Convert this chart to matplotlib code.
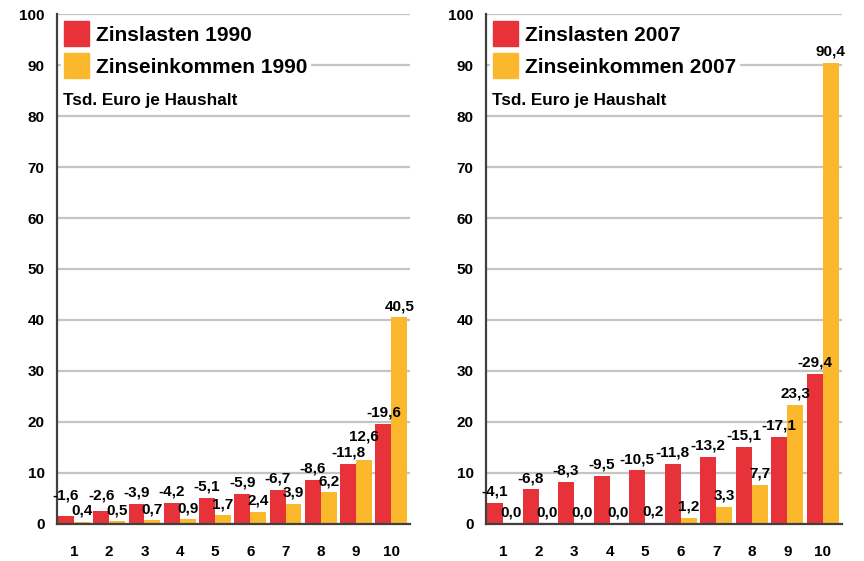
import matplotlib
matplotlib.use("Agg")
import matplotlib.pyplot as plt
from matplotlib.patches import Patch
import numpy as np

plt.rcParams["font.family"] = "Liberation Sans"
plt.rcParams["font.weight"] = "bold"

deciles = [1, 2, 3, 4, 5, 6, 7, 8, 9, 10]

# Zinslasten (als negative Werte beschriftet) und Zinseinkommen, Tsd. Euro je Haushalt
lasten_1990 = [-1.6, -2.6, -3.9, -4.2, -5.1, -5.9, -6.7, -8.6, -11.8, -19.6]
einkommen_1990 = [0.4, 0.5, 0.7, 0.9, 1.7, 2.4, 3.9, 6.2, 12.6, 40.5]
lasten_2007 = [-4.1, -6.8, -8.3, -9.5, -10.5, -11.8, -13.2, -15.1, -17.1, -29.4]
einkommen_2007 = [0.0, 0.0, 0.0, 0.0, 0.2, 1.2, 3.3, 7.7, 23.3, 90.4]

red = "#e8323a"
yellow = "#fbb82c"
width = 0.45


def fmt(v):
    return f"{v:.1f}".replace(".", ",")


def panel(ax, lasten, einkommen, year):
    x = np.array(deciles)
    las = np.abs(lasten)
    ax.bar(x - width / 2, las, width, color=red, zorder=3)
    ax.bar(x + width / 2, einkommen, width, color=yellow, zorder=3)

    for xi, v, raw, e in zip(x, las, lasten, einkommen):
        ry = max(v, 3.3)
        ax.annotate(fmt(raw), (xi - width / 2, ry), xytext=(0, 3),
                    textcoords="offset points", ha="center", va="bottom",
                    fontsize=11, fontweight="bold", zorder=5)
        # gelbe Beschriftung über die rote heben, wenn sie sich sonst überlappen
        ey = e
        if 0 <= e - v < 3:
            ey = ry + 3.2
        ax.annotate(fmt(e), (xi + width / 2, ey), xytext=(0, 3),
                    textcoords="offset points", ha="center", va="bottom",
                    fontsize=11, fontweight="bold", zorder=5)

    ax.set_xlim(0.52, 10.54)
    ax.set_ylim(0, 100)
    ax.set_yticks(range(0, 101, 10))
    ax.set_xticks(x)
    ax.set_xticklabels([str(d) for d in deciles])
    ax.tick_params(axis="both", length=0, labelsize=11)
    ax.tick_params(axis="x", pad=15)
    ax.tick_params(axis="y", pad=9)
    for lab in ax.get_xticklabels() + ax.get_yticklabels():
        lab.set_fontweight("bold")

    ax.yaxis.grid(True, color="#c4c4c4", linewidth=1.6, zorder=0)
    ax.set_axisbelow(True)
    for s in ["top", "right"]:
        ax.spines[s].set_visible(False)
    for s in ["left", "bottom"]:
        ax.spines[s].set_color("#404040")
        ax.spines[s].set_linewidth(1.6)
        ax.spines[s].set_zorder(4)

    handles = [Patch(color=red, label=f"Zinslasten {year}"),
               Patch(color=yellow, label=f"Zinseinkommen {year}")]
    leg = ax.legend(handles=handles, loc="upper left", bbox_to_anchor=(0.0, 1.0),
                    frameon=True, facecolor="white", edgecolor="white", framealpha=1,
                    fancybox=False, borderpad=0.15, borderaxespad=0.2,
                    handlelength=1.2, handleheight=1.45, handletextpad=0.3,
                    labelspacing=0.35, prop={"size": 15, "weight": "bold"})
    leg.set_zorder(6)
    ax.text(0.017, 0.831, "Tsd. Euro je Haushalt", transform=ax.transAxes,
            fontsize=12.3, fontweight="bold", va="center", ha="left", zorder=7)


fig = plt.figure(figsize=(8.64, 5.61), dpi=100)
ax1 = fig.add_axes([0.066, 0.066, 0.409, 0.909])
ax2 = fig.add_axes([0.5625, 0.066, 0.412, 0.909])
panel(ax1, lasten_1990, einkommen_1990, 1990)
panel(ax2, lasten_2007, einkommen_2007, 2007)

fig.savefig("out.png", dpi=100)
